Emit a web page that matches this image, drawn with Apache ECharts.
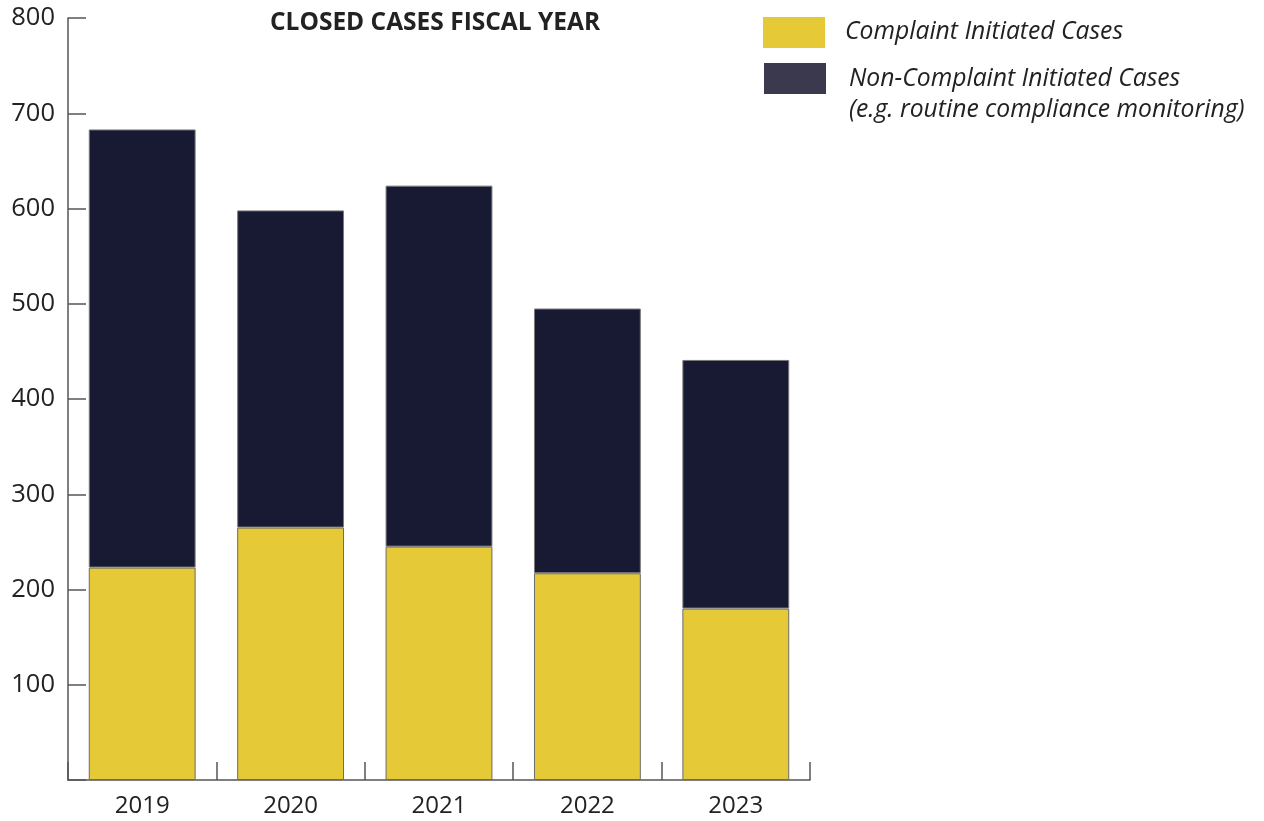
<!DOCTYPE html>
<html>
<head>
<meta charset="utf-8">
<title>Closed Cases Fiscal Year</title>
<script src="https://cdn.jsdelivr.net/npm/echarts@6/dist/echarts.min.js"></script>
<style>
  html, body { margin: 0; padding: 0; background: #ffffff; }
  #chart { width: 1264px; height: 821px; }
</style>
</head>
<body>
<div id="chart"></div>
<script>
// Fiscal years on the x axis
const years = ['2019', '2020', '2021', '2022', '2023'];
// Closed cases that started from a complaint
const complaintCases = [223, 265, 245, 217, 180];
// Closed cases not started by a complaint (stacked on top)
const nonComplaintCases = [460, 333, 379, 278, 261];

const seriesNames = ['Complaint Initiated Cases', 'Non-Complaint Initiated Cases'];
const legendSecondLine = '(e.g. routine compliance monitoring)';

const YELLOW = '#e6c937';
const NAVY = '#181a33';
const NAVY_KEY = '#3a394d';
const AXIS = '#555555';
const TEXT = '#222222';
const FONT = '"Open Sans", Lato, sans-serif';

const chart = echarts.init(document.getElementById('chart'), null, { renderer: 'canvas' });

chart.setOption({
  animation: false,
  backgroundColor: '#ffffff',
  title: {
    text: 'CLOSED CASES FISCAL YEAR',
    left: 430,
    top: 6,
    textAlign: 'center',
    textStyle: { fontFamily: FONT, fontSize: 24.5, fontWeight: 'bold', color: TEXT }
  },
  grid: { left: 68, right: 454, top: 18, bottom: 41, containLabel: false },
  xAxis: {
    type: 'category',
    data: years,
    boundaryGap: true,
    axisLine: { show: true, lineStyle: { color: AXIS, width: 1.5 } },
    axisTick: { show: true, inside: true, length: 18, alignWithLabel: false, lineStyle: { color: AXIS, width: 1.5 } },
    axisLabel: { margin: 14, fontFamily: FONT, fontSize: 24, color: TEXT }
  },
  yAxis: {
    type: 'value',
    min: 0,
    max: 800,
    interval: 100,
    splitLine: { show: false },
    axisLine: { show: true, lineStyle: { color: AXIS, width: 1.5 } },
    axisTick: { show: true, inside: true, length: 18, lineStyle: { color: AXIS, width: 1.5 } },
    axisLabel: {
      margin: 13,
      fontFamily: FONT,
      fontSize: 25.5,
      color: TEXT,
      formatter: v => (v === 0 ? '' : String(v))
    }
  },
  series: [
    {
      name: seriesNames[0],
      type: 'bar',
      stack: 'cases',
      barWidth: '72%',
      data: complaintCases,
      itemStyle: { color: YELLOW, borderColor: '#6b6b6b', borderWidth: 1 }
    },
    {
      name: seriesNames[1],
      type: 'bar',
      stack: 'cases',
      barWidth: '72%',
      data: nonComplaintCases,
      itemStyle: { color: NAVY, borderColor: '#7a7a7a', borderWidth: 1 }
    }
  ],
  graphic: [
    { type: 'rect', left: 763, top: 17, shape: { width: 62, height: 31 }, style: { fill: YELLOW } },
    {
      type: 'text', left: 845, top: 19,
      style: { text: seriesNames[0], font: 'italic 24.7px ' + FONT, fill: TEXT }
    },
    { type: 'rect', left: 764, top: 63, shape: { width: 62, height: 31 }, style: { fill: NAVY_KEY } },
    {
      type: 'text', left: 849, top: 63,
      style: { text: seriesNames[1] + '\n' + legendSecondLine, font: 'italic 24.7px ' + FONT, lineHeight: 31, fill: TEXT }
    }
  ]
});
</script>
</body>
</html>
